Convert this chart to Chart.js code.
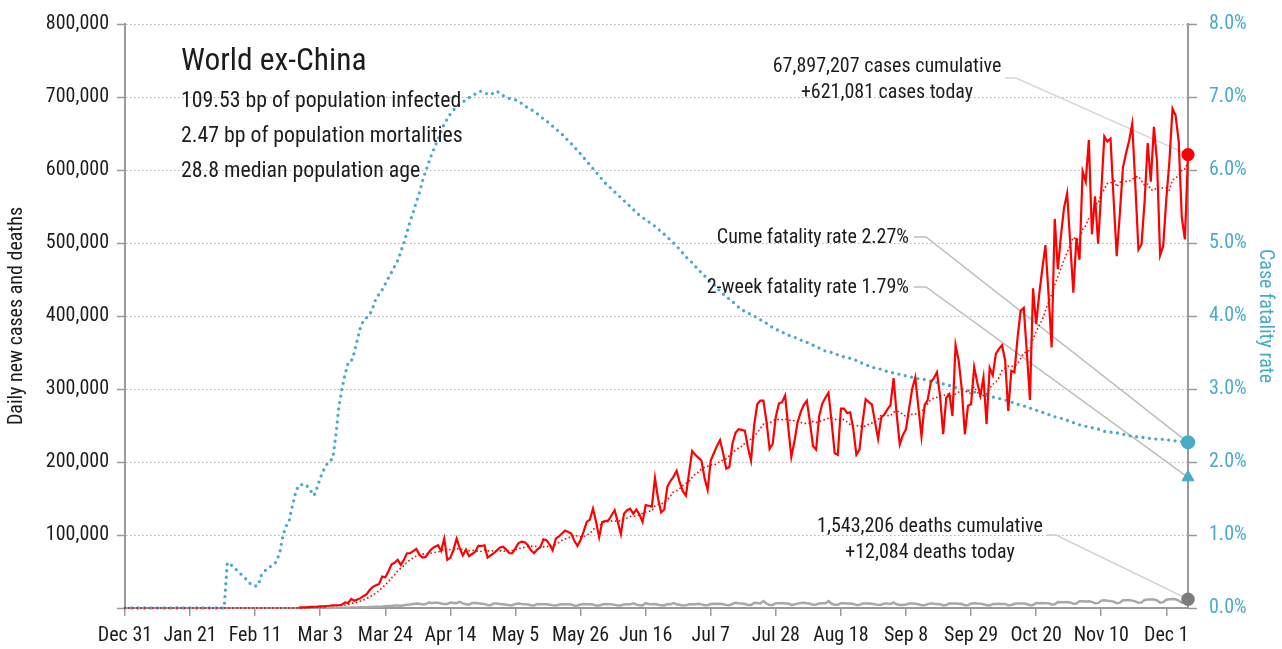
<!DOCTYPE html>
<html>
<head>
<meta charset="utf-8">
<title>World ex-China</title>
<script src="https://cdn.jsdelivr.net/npm/chart.js@4.4.1/dist/chart.umd.min.js"></script>
<style>
    html, body { margin: 0; padding: 0; background: #fff; }
    #wrap { width: 1282px; height: 649px; }
</style>
</head>
<body>
<div id="wrap"><canvas id="chart" width="1282" height="649"></canvas></div>
<script>
// Day 0 = Dec 31, 2019, one value per day up to Dec 8, 2020 (rows are weeks, Tue..Mon)
const xTickLabels = ['Dec 31', 'Jan 21', 'Feb 11', 'Mar 3', 'Mar 24', 'Apr 14', 'May 5', 'May 26',
    'Jun 16', 'Jul 7', 'Jul 28', 'Aug 18', 'Sep 8', 'Sep 29', 'Oct 20', 'Nov 10', 'Dec 1'];
const tickStep = 21;

// Daily new cases, thousands
const dailyCasesK = [
    0, 0, 0, 0, 0, 0, 0,
    0, 0, 0, 0, 0, 0, 0,
    0, 0, 0, 0, 0, 0, 0,
    0, 0, 0, 0, 0, 0, 0,
    0, 0, 0, 0, 0, 0, 0,
    0, 0, 0, 0, 0, 0, 0,
    0, 0, 0, 0, 0, 0, 0,
    0, 0, 0, 0, 0, 0, 0,
    0.6, 0.9, 1.0, 1.3, 1.6, 1.7, 1.9,
    2.2, 2.4, 2.7, 2.8, 3.5, 3.6, 3.8,
    4.6, 7.6, 6.9, 12.5, 10.0, 11.5, 13.5,
    16.5, 19, 25, 29, 31, 33, 43,
    42, 50, 60, 62, 66, 59, 66,
    75, 75, 78, 81, 73, 69, 70,
    76, 81, 84, 86, 78, 95, 66,
    69, 80, 95, 82, 72, 80, 71,
    74, 77, 85, 85, 86, 69, 72,
    75, 79, 83, 84, 80, 75, 75,
    82, 89, 91, 90, 86, 79, 75,
    80, 83, 94, 93, 87, 79, 95,
    98, 102, 106, 104, 102, 92, 85,
    93, 105, 118, 121, 136, 118, 97,
    118, 119, 120, 127, 134, 118, 101,
    129, 134, 136, 129, 135, 128, 118,
    141, 140, 139, 178, 150, 131, 135,
    166, 174, 180, 188, 172, 160, 154,
    185, 215, 210, 206, 202, 178, 162,
    202, 212, 222, 230, 212, 191, 193,
    225, 240, 245, 244, 243, 220, 202,
    250, 279, 284, 284, 255, 218, 225,
    262, 280, 282, 291, 248, 207, 228,
    254, 268, 278, 284, 255, 222, 217,
    263, 280, 288, 295, 255, 212, 210,
    273, 273, 267, 268, 245, 210, 217,
    255, 286, 282, 279, 255, 232, 261,
    265, 272, 278, 315, 265, 224, 237,
    245, 273, 300, 316, 275, 235, 278,
    285, 309, 315, 323, 290, 238, 288,
    293, 263, 360, 339, 300, 238, 277,
    279, 330, 309, 291, 316, 252, 329,
    319, 348, 355, 360, 339, 270, 325,
    323, 370, 407, 411, 350, 285, 438,
    389, 430, 465, 497, 430, 357, 533,
    464, 510, 548, 568, 500, 432, 507,
    477, 598, 584, 641, 512, 564, 499,
    570, 646, 639, 643, 560, 482, 540,
    603, 623, 640, 663, 580, 491, 498,
    557, 637, 584, 659, 612, 483, 496,
    560, 612, 684, 675, 639, 535, 505,
    621.081
];

// Daily new deaths, thousands
const dailyDeathsK = [
    0, 0, 0, 0, 0, 0, 0,
    0, 0, 0, 0, 0, 0, 0,
    0, 0, 0, 0, 0, 0, 0,
    0, 0, 0, 0, 0, 0, 0,
    0, 0, 0, 0, 0, 0, 0,
    0, 0, 0, 0, 0, 0, 0,
    0, 0, 0, 0, 0, 0, 0,
    0, 0, 0, 0, 0, 0, 0,
    0, 0, 0, 0, 0, 0, 0,
    0, 0, 0.1, 0.1, 0.2, 0.2, 0.3,
    0.4, 0.4, 0.5, 0.6, 0.7, 0.8, 0.9,
    1.0, 1.1, 1.3, 1.4, 1.6, 1.7, 1.9,
    2.3, 2.6, 2.8, 3.3, 3.3, 3.2, 3.8,
    4.5, 4.8, 5.6, 6.2, 5.8, 4.9, 5.4,
    7.4, 6.8, 7.2, 7.1, 6.2, 5.6, 5.6,
    7.4, 7.0, 6.7, 8.4, 6.4, 5.0, 4.6,
    7.0, 6.9, 6.4, 5.9, 5.4, 4.0, 3.9,
    6.2, 6.2, 5.4, 5.2, 4.6, 3.7, 3.8,
    5.6, 6.1, 5.6, 5.3, 4.8, 3.8, 3.4,
    5.5, 5.2, 5.1, 5.2, 4.6, 3.7, 3.4,
    4.5, 5.3, 5.3, 5.1, 4.9, 3.2, 3.5,
    4.7, 5.6, 5.2, 5.2, 4.7, 3.3, 3.3,
    4.8, 5.5, 5.0, 5.2, 4.3, 3.4, 3.4,
    4.9, 5.3, 5.0, 6.3, 4.6, 3.8, 3.6,
    6.6, 5.4, 5.0, 5.3, 4.6, 3.6, 3.5,
    5.3, 5.0, 6.8, 5.0, 4.4, 3.3, 3.6,
    5.1, 5.0, 5.3, 5.8, 5.0, 3.9, 3.8,
    5.5, 5.7, 5.4, 5.7, 5.3, 4.1, 3.8,
    5.5, 7.0, 6.5, 6.2, 5.6, 4.2, 4.1,
    7.0, 6.8, 6.3, 9.5, 6.1, 4.1, 4.2,
    6.5, 6.5, 6.8, 6.3, 6.2, 4.3, 4.7,
    6.0, 6.9, 7.1, 6.6, 5.9, 4.5, 4.8,
    6.2, 6.5, 6.6, 9.4, 5.8, 4.4, 4.3,
    6.6, 6.6, 6.2, 6.0, 5.6, 4.2, 4.0,
    6.2, 6.2, 6.3, 5.7, 5.3, 4.0, 4.3,
    6.3, 6.0, 5.4, 7.5, 5.1, 4.0, 4.0,
    4.9, 6.1, 6.2, 5.7, 5.1, 3.9, 3.8,
    5.3, 6.3, 5.7, 5.6, 5.3, 3.6, 4.2,
    6.2, 6.2, 6.0, 5.7, 5.4, 3.9, 3.8,
    6.3, 6.5, 6.1, 5.8, 5.1, 3.8, 3.6,
    5.4, 5.6, 5.8, 5.5, 5.6, 3.7, 4.1,
    5.8, 6.2, 6.3, 6.2, 5.4, 3.9, 4.2,
    6.8, 6.6, 6.8, 6.5, 6.6, 4.8, 5.2,
    8.3, 7.8, 7.8, 8.3, 7.6, 5.8, 6.2,
    9.2, 9.3, 9.0, 9.2, 8.3, 6.6, 6.7,
    10.1, 10.6, 9.9, 9.7, 8.7, 6.5, 7.3,
    10.6, 10.7, 10.9, 10.1, 9.1, 7.1, 7.7,
    11.0, 11.5, 11.8, 11.7, 10.3, 7.4, 8.0,
    11.3, 11.9, 12.2, 11.9, 10.1, 7.4, 8.1,
    12.084
];

// Cumulative case fatality rate, percent
const caseFatalityPct = [
    0, 0, 0, 0, 0, 0, 0,
    0, 0, 0, 0, 0, 0, 0,
    0, 0, 0, 0, 0, 0, 0,
    0, 0, 0, 0, 0, 0, 0,
    0, 0, 0, 0, 0, 0.62, 0.60,
    0.56, 0.52, 0.48, 0.44, 0.40, 0.35, 0.31,
    0.30, 0.31, 0.45, 0.50, 0.55, 0.57, 0.59,
    0.65, 0.77, 1.00, 1.12, 1.20, 1.40, 1.57,
    1.68, 1.69, 1.70, 1.66, 1.60, 1.54, 1.65,
    1.78, 1.88, 1.96, 2.02, 2.04, 2.35, 2.75,
    3.00, 3.20, 3.36, 3.38, 3.50, 3.68, 3.85,
    3.94, 3.98, 4.02, 4.12, 4.24, 4.30, 4.36,
    4.44, 4.52, 4.60, 4.68, 4.76, 4.88, 5.00,
    5.15, 5.30, 5.42, 5.56, 5.69, 5.85, 5.98,
    6.10, 6.22, 6.32, 6.42, 6.54, 6.63, 6.70,
    6.77, 6.82, 6.87, 6.90, 6.93, 6.96, 6.99,
    7.02, 7.04, 7.07, 7.08, 7.06, 7.04, 7.03,
    7.06, 7.08, 7.05, 7.02, 7.00, 6.98, 6.97,
    6.96, 6.94, 6.91, 6.88, 6.85, 6.83, 6.80,
    6.77, 6.74, 6.70, 6.67, 6.64, 6.60, 6.56,
    6.53, 6.49, 6.45, 6.40, 6.36, 6.31, 6.27,
    6.22, 6.17, 6.12, 6.07, 6.02, 5.97, 5.92,
    5.87, 5.82, 5.78, 5.74, 5.70, 5.66, 5.62,
    5.58, 5.54, 5.50, 5.46, 5.42, 5.38, 5.35,
    5.32, 5.29, 5.26, 5.23, 5.19, 5.16, 5.12,
    5.08, 5.04, 5.00, 4.96, 4.91, 4.86, 4.81,
    4.77, 4.73, 4.68, 4.64, 4.59, 4.55, 4.51,
    4.47, 4.43, 4.39, 4.34, 4.30, 4.27, 4.23,
    4.20, 4.16, 4.12, 4.09, 4.06, 4.04, 4.02,
    4.00, 3.97, 3.95, 3.92, 3.90, 3.87, 3.84,
    3.82, 3.80, 3.78, 3.76, 3.74, 3.72, 3.71,
    3.69, 3.67, 3.66, 3.64, 3.62, 3.60, 3.58,
    3.56, 3.54, 3.52, 3.51, 3.50, 3.48, 3.47,
    3.45, 3.44, 3.43, 3.42, 3.41, 3.39, 3.37,
    3.35, 3.33, 3.32, 3.30, 3.29, 3.28, 3.27,
    3.25, 3.24, 3.23, 3.22, 3.21, 3.20, 3.19,
    3.18, 3.17, 3.16, 3.15, 3.14, 3.14, 3.13,
    3.12, 3.11, 3.10, 3.09, 3.08, 3.07, 3.06,
    3.05, 3.04, 3.02, 3.01, 3.00, 2.99, 2.98,
    2.97, 2.96, 2.95, 2.94, 2.92, 2.91, 2.90,
    2.89, 2.88, 2.87, 2.86, 2.85, 2.84, 2.82,
    2.81, 2.79, 2.78, 2.77, 2.75, 2.74, 2.72,
    2.71, 2.69, 2.68, 2.67, 2.65, 2.64, 2.62,
    2.61, 2.60, 2.58, 2.57, 2.55, 2.54, 2.52,
    2.51, 2.50, 2.49, 2.48, 2.47, 2.46, 2.45,
    2.44, 2.42, 2.41, 2.41, 2.40, 2.40, 2.39,
    2.38, 2.37, 2.36, 2.35, 2.35, 2.34, 2.34,
    2.33, 2.33, 2.32, 2.32, 2.31, 2.31, 2.31,
    2.30, 2.30, 2.29, 2.29, 2.28, 2.28, 2.27,
    2.27
];

const twoWeekFatalityPct = 1.79;

const titleText = 'World ex-China';
const infoLines = ['109.53 bp of population infected', '2.47 bp of population mortalities', '28.8 median population age'];
const caseNote = ['67,897,207 cases cumulative', '+621,081 cases today'];
const deathNote = ['1,543,206 deaths cumulative', '+12,084 deaths today'];
const cumeRateNote = 'Cume fatality rate 2.27%';
const twoWeekRateNote = '2-week fatality rate 1.79%';

// Colors
const red = '#ff0000';
const blue = '#4aabc7';
const deathGray = '#a8a8a8';
const axisGray = '#9a9a9a';
const ink = '#1c1c1c';

// Find a condensed font that is actually installed
function pickFont(list) {
    const c = document.createElement('canvas').getContext('2d');
    const probe = 'World ex-China 109.53 bp';
    for (const name of list) {
        for (const base of ['monospace', 'serif']) {
            c.font = `40px ${base}`;
            const w0 = c.measureText(probe).width;
            c.font = `40px "${name}", ${base}`;
            if (c.measureText(probe).width !== w0) return name;
        }
    }
    return 'Liberation Sans';
}
const fontFamily = pickFont(['Liberation Sans Narrow', 'Roboto Condensed', 'DejaVu Sans Condensed']);
const fs = {'Liberation Sans Narrow': 1, 'Roboto Condensed': 0.95, 'DejaVu Sans Condensed': 0.86}[fontFamily] || 0.82;
const px = n => Math.round(n * fs * 10) / 10;

Chart.defaults.font.family = `"${fontFamily}", sans-serif`;
Chart.defaults.font.size = px(21);
Chart.defaults.color = ink;

// Build the plotted series from the arrays above
const lastDay = dailyCasesK.length - 1;
const firstCaseDay = dailyCasesK.findIndex(v => v > 0);
const firstDeathDay = dailyDeathsK.findIndex(v => v > 0);

const casePoints = dailyCasesK.map((v, i) => ({ x: i, y: i < firstCaseDay ? null : v * 1000 }));
// 7-day trailing average of the daily cases
const avgPoints = dailyCasesK.map((v, i) => {
    const win = dailyCasesK.slice(Math.max(0, i - 6), i + 1);
    return { x: i, y: win.reduce((a, b) => a + b, 0) / win.length * 1000 };
});
const deathPoints = dailyDeathsK.map((v, i) => ({ x: i, y: i < firstDeathDay ? null : v * 1000 }));
const ratePoints = caseFatalityPct.map((v, i) => ({ x: i, y: v }));

const endOnly = r => ctx => ctx.dataIndex === lastDay ? r : 0;

// Annotations: texts and leader lines
const notesPlugin = {
    id: 'notes',
    beforeDatasetsDraw(chart) {
        const { ctx, scales: { x, y, y1 } } = chart;
        const xe = x.getPixelForValue(lastDay);
        const leaders = [
            { pts: [[1005, 78], [1016, 78], [xe, y.getPixelForValue(dailyCasesK[lastDay] * 1000)]], color: '#d6d6d6' },
            { pts: [[914, 237], [926, 237], [xe, y1.getPixelForValue(caseFatalityPct[lastDay])]], color: '#bdbdbd' },
            { pts: [[914, 287], [926, 287], [xe, y1.getPixelForValue(twoWeekFatalityPct)]], color: '#bdbdbd' },
            { pts: [[1047, 535], [1056, 535], [xe, y.getPixelForValue(dailyDeathsK[lastDay] * 1000)]], color: '#d0d0d0' }
        ];
        ctx.save();
        ctx.lineWidth = 1.5;
        leaders.forEach(l => {
            ctx.strokeStyle = l.color;
            ctx.beginPath();
            l.pts.forEach((p, i) => i ? ctx.lineTo(p[0], p[1]) : ctx.moveTo(p[0], p[1]));
            ctx.stroke();
        });
        ctx.restore();
    },
    afterDraw(chart) {
        const ctx = chart.ctx;
        const fam = `"${fontFamily}", sans-serif`;
        ctx.save();
        ctx.fillStyle = ink;
        ctx.textBaseline = 'alphabetic';
        ctx.textAlign = 'left';
        ctx.font = `${px(33)}px ${fam}`;
        ctx.fillText(titleText, 181, 70);
        ctx.font = `${px(23)}px ${fam}`;
        infoLines.forEach((t, i) => ctx.fillText(t, 181, 107 + i * 35));

        ctx.font = `${px(21)}px ${fam}`;
        ctx.textBaseline = 'middle';
        ctx.textAlign = 'center';
        ctx.fillText(caseNote[0], 887, 67);
        ctx.fillText(caseNote[1], 887, 93);
        ctx.fillText(deathNote[0], 930, 527);
        ctx.fillText(deathNote[1], 930, 553);
        ctx.textAlign = 'right';
        ctx.fillText(cumeRateNote, 909, 238);
        ctx.fillText(twoWeekRateNote, 909, 288);
        ctx.restore();
    }
};

new Chart(document.getElementById('chart'), {
    type: 'line',
    data: {
        datasets: [
            {
                label: 'Daily deaths',
                data: deathPoints,
                yAxisID: 'y',
                borderColor: deathGray,
                borderWidth: 2.5,
                pointRadius: endOnly(5.5),
                pointBackgroundColor: '#7d7d7d',
                pointBorderColor: '#7d7d7d',
                clip: false
            },
            {
                label: '7-day average cases',
                data: avgPoints,
                yAxisID: 'y',
                borderColor: red,
                borderWidth: 1.8,
                borderDash: [0, 4],
                borderCapStyle: 'round',
                pointRadius: 0,
                clip: false
            },
            {
                label: 'Daily cases',
                data: casePoints,
                yAxisID: 'y',
                borderColor: red,
                borderWidth: 2.2,
                pointRadius: endOnly(5.5),
                pointBackgroundColor: red,
                pointBorderColor: red,
                clip: false
            },
            {
                label: 'Case fatality rate',
                data: ratePoints,
                yAxisID: 'y1',
                borderColor: blue,
                borderWidth: 3.3,
                borderDash: [0, 6.5],
                borderCapStyle: 'round',
                pointRadius: endOnly(5.5),
                pointBackgroundColor: blue,
                pointBorderColor: blue,
                clip: false
            },
            {
                label: '2-week fatality rate',
                data: [{ x: lastDay, y: twoWeekFatalityPct }],
                yAxisID: 'y1',
                showLine: false,
                pointStyle: 'triangle',
                pointRadius: 7,
                pointBackgroundColor: blue,
                pointBorderColor: blue,
                clip: false
            }
        ]
    },
    options: {
        responsive: false,
        devicePixelRatio: 1,
        animation: false,
        events: [],
        layout: { padding: { top: 20, left: 0, right: 0, bottom: 0 } },
        plugins: {
            legend: { display: false },
            tooltip: { enabled: false }
        },
        scales: {
            x: {
                type: 'linear',
                min: 0,
                max: lastDay,
                afterFit: s => { s.height = 41; },
                grid: { drawOnChartArea: false, tickLength: 8, color: axisGray, lineWidth: 1.5 },
                border: { color: axisGray, width: 2 },
                ticks: {
                    stepSize: tickStep,
                    includeBounds: false,
                    autoSkip: false,
                    maxRotation: 0,
                    padding: 8,
                    color: ink,
                    callback: v => xTickLabels[v / tickStep]
                }
            },
            y: {
                position: 'left',
                min: 0,
                max: 800000,
                afterFit: s => { s.width = 125; },
                grid: { color: '#b3b3b3', lineWidth: 1, tickColor: axisGray, tickLength: 8, tickWidth: 1.5, tickBorderDash: [] },
                border: { color: axisGray, width: 2, dash: [1.5, 2.5] },
                ticks: {
                    stepSize: 100000,
                    padding: 8,
                    color: ink,
                    callback: v => v === 0 ? '' : v.toLocaleString('en-US')
                },
                title: { display: true, text: 'Daily new cases and deaths', color: ink, padding: { top: 5, bottom: 0 } }
            },
            y1: {
                position: 'right',
                min: 0,
                max: 8,
                afterFit: s => { s.width = 94; },
                grid: { drawOnChartArea: false, tickColor: axisGray, tickLength: 9, tickWidth: 1.5 },
                border: { color: axisGray, width: 2 },
                ticks: {
                    stepSize: 1,
                    padding: 12,
                    color: blue,
                    callback: v => v.toFixed(1) + '%'
                },
                title: { display: true, text: 'Case fatality rate', color: blue, padding: { top: 5, bottom: 0 } }
            }
        }
    },
    plugins: [notesPlugin]
});
</script>
</body>
</html>
